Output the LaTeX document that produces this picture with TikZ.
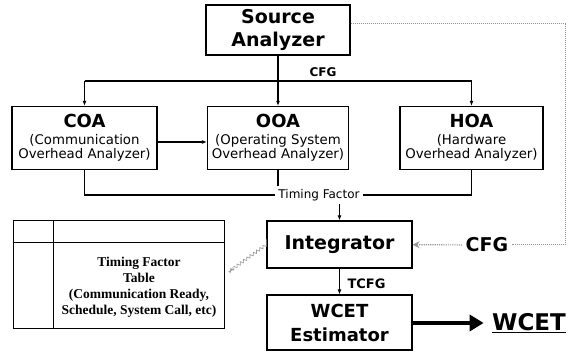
\documentclass[tikz,border=0pt]{standalone}
\usepackage{fontspec}
\setmainfont{DejaVu Sans}
\newfontfamily\tblfont{Liberation Serif}
\usetikzlibrary{arrows.meta,decorations.pathmorphing}

\begin{document}
\begin{tikzpicture}[x=1pt,y=-1pt,
  box/.style={draw, line width=1.2pt, inner sep=0pt, align=center,
    font=\fontsize{13.3}{14.5}\selectfont},
  link/.style={line width=1.1pt, -{Latex[length=5pt,width=4pt]}},
  bus/.style={line width=1.1pt}]
  % Define scan colors
  \definecolor{scangray}{RGB}{150,150,150}

  \useasboundingbox (0,0) rectangle (579,352);

  % Source analyzer at the top
  \node[box, minimum width=144pt, minimum height=50pt,
    font=\fontsize{19}{23}\selectfont\bfseries] (src) at (278,30) {Source\\Analyzer};

  % Three overhead analyzers
  \node[box, minimum width=145pt, minimum height=63pt] (coa) at (84.5,138)
    {{\fontsize{18}{20}\selectfont\bfseries COA}\\[2pt](Communication\\Overhead Analyzer)};
  \node[box, minimum width=141pt, minimum height=63pt] (ooa) at (278,138)
    {{\fontsize{18}{20}\selectfont\bfseries OOA}\\[2pt](Operating System\\Overhead Analyzer)};
  \node[box, minimum width=143pt, minimum height=63pt] (hoa) at (471.5,138)
    {{\fontsize{18}{20}\selectfont\bfseries HOA}\\[2pt](Hardware\\Overhead Analyzer)};

  % CFG bus from the source analyzer
  \coordinate (cfgbus) at (278,81);
  \draw[bus] (coa.north |- cfgbus) -- (hoa.north |- cfgbus);
  \draw[link] (src) -- (ooa);
  \draw[link] (coa.north |- cfgbus) -- (coa);
  \draw[link] (hoa.north |- cfgbus) -- (hoa);
  \node[font=\fontsize{12}{14}\selectfont\bfseries] (cfglbl) at (323,72) {CFG};
  \draw[link] ([yshift=-4pt]coa.east) -- ([yshift=-4pt]ooa.west);

  % Timing factor bus
  \coordinate (tfbus) at (319,195);
  \draw[bus] (coa.south) -- (coa.south |- tfbus) -- (hoa.south |- tfbus) -- (hoa.south);
  \draw[bus] (ooa.south) -- (ooa.south |- tfbus);
  \node[fill=white, inner sep=3pt, font=\fontsize{12}{14}\selectfont] (tf) at (tfbus) {Timing Factor};

  % Integrator and estimator
  \node[box, minimum width=145pt, minimum height=47pt,
    font=\fontsize{19}{22}\selectfont\bfseries] (integ) at (339.5,244.5) {Integrator};
  \node[box, minimum width=145pt, minimum height=55pt,
    font=\fontsize{18}{24}\selectfont\bfseries] (est) at (339.5,322.5) {WCET\\Estimator};
  \draw[link] (integ.north |- tf.south) -- (integ);
  \draw[link] (integ) -- (est);
  \node[anchor=west, font=\fontsize{13}{15}\selectfont\bfseries] (tcfg) at (344,284) {TCFG};

  % Result
  \node[font=\fontsize{23}{26}\selectfont\bfseries] (wcet) at (529,323) {\underline{WCET}};
  \draw[line width=4.5pt, -{Triangle[length=14pt,width=16pt]}, shorten >=5pt]
    (est.east |- wcet) -- (wcet.west);

  % Second CFG, fed back from the source analyzer
  \node[font=\fontsize{19}{22}\selectfont\bfseries] (cfgin) at (487,245) {CFG};
  \coordinate (fbturn) at (565,24);
  \draw[scangray, line width=1pt, densely dotted] (src.east |- fbturn) -- (fbturn) |- (cfgin.east);
  \draw[scangray, line width=1.2pt, densely dotted, -{Stealth[length=7pt,width=7pt]}]
    (cfgin) -- (integ);

  % Timing factor table
  \node[draw, line width=1pt, minimum width=211pt, minimum height=108pt,
    inner sep=0pt] (tftable) at (118.5,275) {};
  \draw[line width=1pt] ([yshift=-22pt]tftable.north west) -- ([yshift=-22pt]tftable.north east);
  \draw[line width=1pt] ([xshift=41pt]tftable.north west) -- ([xshift=41pt]tftable.south west);
  \node[align=center, font=\tblfont\bfseries\fontsize{13.5}{16}\selectfont] (tftext) at (139,287)
    {Timing Factor\\Table\\(Communication Ready,\\Schedule, System Call, etc)};
  \draw[scangray, line width=0.6pt, decorate,
    decoration={snake, amplitude=1.5pt, segment length=4pt, post length=4pt},
    -{Stealth[length=4pt]}, shorten <=5pt, shorten >=7pt] (integ.west) -- (tftable.east);
\end{tikzpicture}
\end{document}
